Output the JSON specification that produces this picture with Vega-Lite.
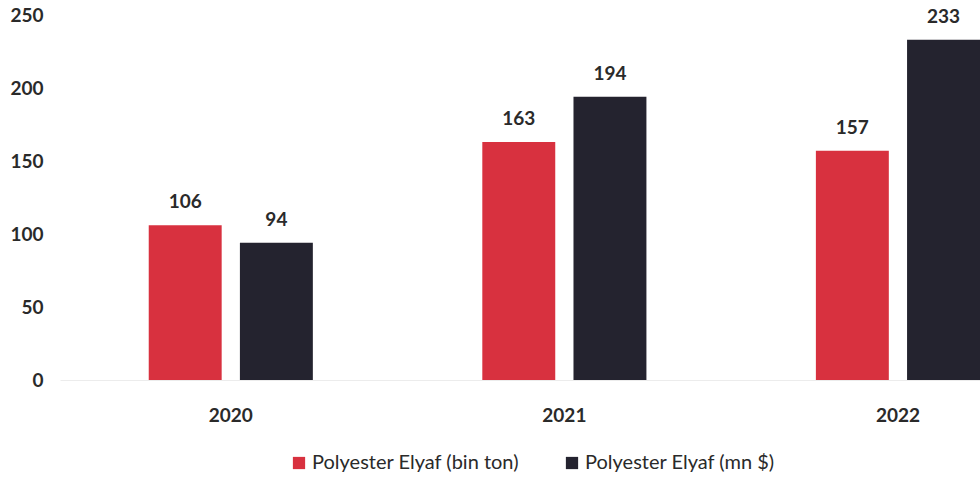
{
  "$schema": "https://vega.github.io/schema/vega-lite/v6.json",
  "autosize": "none",
  "width": 920,
  "height": 365,
  "padding": {"left": 60, "top": 15, "right": 0, "bottom": 110},
  "background": "white",
  "config": {
    "view": {"stroke": null},
    "font": "Lato",
    "axis": {"labelFont": "Lato", "labelColor": "#2a2a2a", "labelFontSize": 19, "labelFontWeight": "bold"}
  },
  "data": {
    "values": [
      {"year": "2020", "series": "Polyester Elyaf (bin ton)", "value": 106},
      {"year": "2020", "series": "Polyester Elyaf (mn $)", "value": 94},
      {"year": "2021", "series": "Polyester Elyaf (bin ton)", "value": 163},
      {"year": "2021", "series": "Polyester Elyaf (mn $)", "value": 194},
      {"year": "2022", "series": "Polyester Elyaf (bin ton)", "value": 157},
      {"year": "2022", "series": "Polyester Elyaf (mn $)", "value": 233}
    ]
  },
  "encoding": {
    "x": {
      "field": "year", "type": "nominal",
      "scale": {"paddingInner": 0.508, "paddingOuter": 0.133, "align": 1},
      "axis": {"title": null, "labelAngle": 0, "ticks": false, "domain": true, "domainColor": "#ececec", "labelPadding": 26}
    },
    "xOffset": {"field": "series", "type": "nominal", "scale": {"paddingInner": 0.2}},
    "y": {
      "field": "value", "type": "quantitative",
      "scale": {"domain": [0, 250]},
      "axis": {"title": null, "values": [0, 50, 100, 150, 200, 250], "grid": false, "domain": false, "ticks": false, "labelPadding": 17}
    }
  },
  "layer": [
    {
      "mark": {"type": "bar"},
      "encoding": {
        "color": {
          "field": "series", "type": "nominal",
          "scale": {"domain": ["Polyester Elyaf (bin ton)", "Polyester Elyaf (mn $)"], "range": ["#d8313f", "#24232f"]},
          "legend": {
            "title": null, "orient": "none", "direction": "horizontal",
            "legendX": 229, "legendY": 438,
            "symbolType": "square", "symbolSize": 150,
            "labelFont": "Lato", "labelFontSize": 20, "labelColor": "#2a2a2a", "labelLimit": 400,
            "columnPadding": 42, "labelOffset": 3
          }
        }
      }
    },
    {
      "mark": {"type": "text", "dy": -23, "font": "Lato", "fontSize": 19, "fontWeight": "bold", "color": "#2a2a2a"},
      "encoding": {"text": {"field": "value", "type": "quantitative"}}
    }
  ]
}
